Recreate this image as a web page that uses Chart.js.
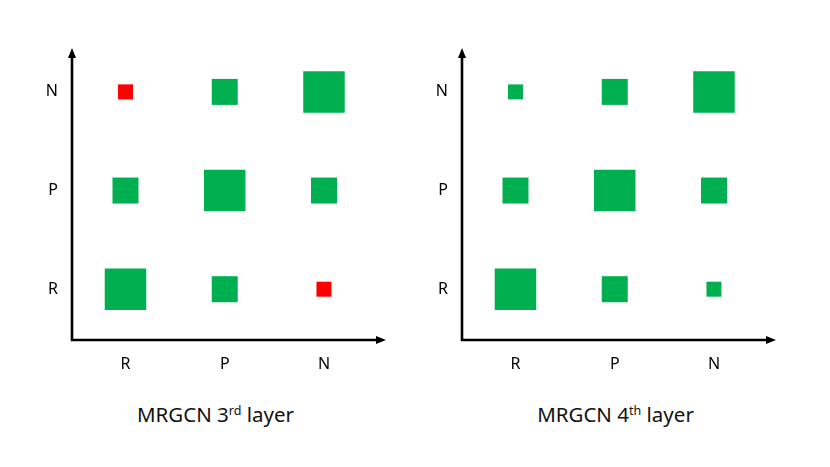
<!DOCTYPE html>
<html>
<head>
<meta charset="utf-8">
<script src="https://cdn.jsdelivr.net/npm/chart.js@4.4.1/dist/chart.umd.min.js"></script>
<style>
  html, body { margin: 0; padding: 0; background: #fff; }
  #wrap { position: relative; width: 830px; height: 467px; overflow: hidden; }
  .panel { position: absolute; top: 0; width: 390px; height: 400px; }
  .title { position: absolute; top: 404px; width: 300px; margin-left: -150px; text-align: center;
           font-family: "Noto Sans", sans-serif; font-size: 20.5px; line-height: 20px; color: #111; white-space: nowrap; }
  .title sup { font-size: 12.5px; vertical-align: 7px; line-height: 0; }
</style>
</head>
<body>
<div id="wrap">
  <div class="panel" style="left:0px"><canvas id="c3" width="390" height="400"></canvas></div>
  <div class="panel" style="left:390px"><canvas id="c4" width="390" height="400"></canvas></div>
  <div class="title" style="left:215.5px">MRGCN 3<sup>rd</sup> layer</div>
  <div class="title" style="left:615.5px">MRGCN 4<sup>th</sup> layer</div>
</div>
<script>
// ---- data ----
const xCategories = ['R', 'P', 'N'];
const yCategories = ['R', 'P', 'N'];
// magnitude level per cell, rows follow yCategories (R, P, N), columns follow xCategories (R, P, N)
const layer3Magnitude = [
  [3, 2, 1],
  [2, 3, 2],
  [1, 2, 3]
];
// sign per cell: 1 = positive (green), -1 = negative (red)
const layer3Sign = [
  [1, 1, -1],
  [1, 1, 1],
  [-1, 1, 1]
];
const layer4Magnitude = [
  [3, 2, 1],
  [2, 3, 2],
  [1, 2, 3]
];
const layer4Sign = [
  [1, 1, 1],
  [1, 1, 1],
  [1, 1, 1]
];

// ---- styles ----
const POS_COLOR = '#00B050';
const NEG_COLOR = '#FF0000';
const SIDE_BY_LEVEL = { 1: 15, 2: 26, 3: 41.5 };
const FONT = '"Noto Sans", sans-serif';

function buildPoints(mag, sign) {
  const pts = [], colors = [], radii = [];
  yCategories.forEach((yc, yi) => {
    xCategories.forEach((xc, xi) => {
      pts.push({ x: xi + 1, y: yi + 1 });
      colors.push(sign[yi][xi] > 0 ? POS_COLOR : NEG_COLOR);
      radii.push(SIDE_BY_LEVEL[mag[yi][xi]] / Math.SQRT2);
    });
  });
  return { pts, colors, radii };
}

const arrowAxes = {
  id: 'arrowAxes',
  afterDraw(chart) {
    const { ctx, chartArea: a } = chart;
    const lw = 2.6, head = 10, half = 4;
    ctx.save();
    ctx.strokeStyle = '#000';
    ctx.fillStyle = '#000';
    ctx.lineWidth = lw;
    ctx.beginPath();
    ctx.moveTo(a.left, a.top + head - 1);
    ctx.lineTo(a.left, a.bottom);
    ctx.lineTo(a.right - head + 1, a.bottom);
    ctx.stroke();
    ctx.beginPath();
    ctx.moveTo(a.left, a.top);
    ctx.lineTo(a.left - half, a.top + head);
    ctx.lineTo(a.left + half, a.top + head);
    ctx.closePath();
    ctx.fill();
    ctx.beginPath();
    ctx.moveTo(a.right, a.bottom);
    ctx.lineTo(a.right - head, a.bottom - half);
    ctx.lineTo(a.right - head, a.bottom + half);
    ctx.closePath();
    ctx.fill();
    ctx.restore();
  }
};

function makeChart(id, mag, sign) {
  const d = buildPoints(mag, sign);
  return new Chart(document.getElementById(id), {
    type: 'scatter',
    data: {
      datasets: [{
        data: d.pts,
        pointStyle: 'rect',
        pointBackgroundColor: d.colors,
        pointBorderWidth: 0,
        pointBorderColor: 'rgba(0,0,0,0)',
        pointRadius: d.radii,
        pointHoverRadius: d.radii,
        clip: false
      }]
    },
    options: {
      responsive: false,
      animation: false,
      devicePixelRatio: 1,
      events: [],
      layout: { autoPadding: false, padding: { left: 0, top: 48, right: 4, bottom: 0 } },
      plugins: { legend: { display: false }, tooltip: { enabled: false } },
      scales: {
        x: {
          type: 'linear', min: 0.461, max: 3.625,
          grid: { display: false, drawTicks: false },
          border: { display: false },
          afterFit(s) { s.height = 60; s.paddingLeft = 0; s.paddingRight = 0; },
          afterBuildTicks(s) { s.ticks = xCategories.map((c, i) => ({ value: i + 1 })); },
          ticks: {
            padding: 15, color: '#000', font: { family: FONT, size: 16 },
            callback: (v) => xCategories[v - 1]
          }
        },
        y: {
          type: 'linear', min: 0.485, max: 3.445,
          grid: { display: false, drawTicks: false },
          border: { display: false },
          afterFit(s) { s.width = 72; s.paddingTop = 0; s.paddingBottom = 0; },
          afterBuildTicks(s) { s.ticks = yCategories.map((c, i) => ({ value: i + 1 })); },
          ticks: {
            padding: 14, color: '#000', font: { family: FONT, size: 16 },
            callback: (v) => yCategories[v - 1]
          }
        }
      }
    },
    plugins: [arrowAxes]
  });
}

makeChart('c3', layer3Magnitude, layer3Sign);
makeChart('c4', layer4Magnitude, layer4Sign);
</script>
</body>
</html>
